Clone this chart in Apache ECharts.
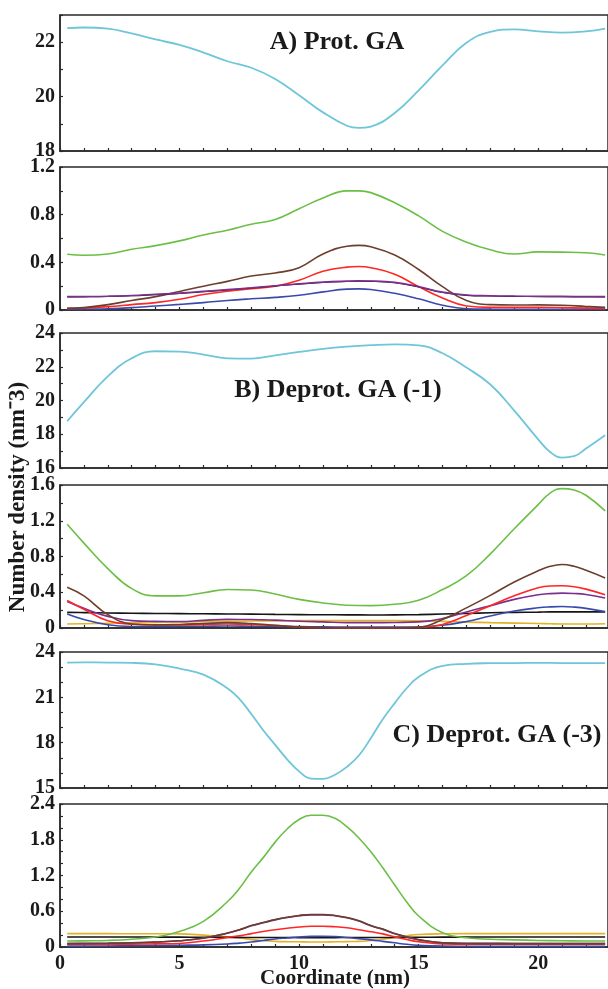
<!DOCTYPE html>
<html><head><meta charset="utf-8">
<script src="https://cdn.jsdelivr.net/npm/echarts@6/dist/echarts.min.js"></script>
<style>html,body{margin:0;padding:0;background:#fff}#c{width:608px;height:989px}</style>
</head><body><div id="c"></div>
<script>
// ---------- Data ----------
// Panel A (Prot. GA)
const xA = [0.3,1,2,3,4,5,6,7,8,9,10,11,12,12.5,13,14,15,16,17,18,19,20,21,22,22.8];
const A_water  = [22.52,22.54,22.5,22.32,22.1,21.9,21.62,21.3,21.06,20.65,20.05,19.42,18.93,18.85,18.9,19.4,20.23,21.15,21.98,22.38,22.47,22.4,22.35,22.4,22.5];
const A_green  = [0.468,0.46,0.47,0.51,0.54,0.58,0.63,0.67,0.72,0.76,0.85,0.94,1.0,1.0,0.985,0.9,0.79,0.66,0.57,0.505,0.47,0.488,0.486,0.48,0.462];
const A_brown  = [0.014,0.02,0.045,0.08,0.112,0.155,0.2,0.24,0.285,0.31,0.355,0.47,0.535,0.542,0.53,0.462,0.34,0.196,0.08,0.045,0.042,0.043,0.04,0.03,0.022];
const A_red    = [0.014,0.017,0.028,0.045,0.062,0.09,0.13,0.157,0.178,0.2,0.25,0.325,0.36,0.365,0.355,0.3,0.196,0.1,0.034,0.022,0.022,0.022,0.02,0.016,0.014];
const A_purple = [0.112,0.113,0.116,0.122,0.132,0.142,0.156,0.171,0.187,0.204,0.22,0.234,0.242,0.244,0.243,0.232,0.196,0.15,0.126,0.12,0.117,0.115,0.114,0.113,0.112];
const A_black  = [0.109,0.11,0.113,0.119,0.129,0.139,0.153,0.168,0.184,0.201,0.217,0.231,0.239,0.241,0.24,0.229,0.193,0.147,0.123,0.117,0.114,0.112,0.111,0.11,0.109];
const A_blue   = [0.006,0.008,0.011,0.02,0.034,0.047,0.062,0.08,0.094,0.106,0.124,0.152,0.175,0.177,0.172,0.14,0.094,0.04,0.011,0.007,0.006,0.006,0.006,0.006,0.006];

// Panel B (Deprot. GA (-1))
const xB = [0.3,1,2,3,4,5,6,7,8,9,10,11,12,13,14,15,16,17,18,19,20,20.5,21,21.5,22,22.8];
const B_water  = [18.77,19.9,21.43,22.5,22.92,22.9,22.72,22.5,22.48,22.68,22.88,23.06,23.19,23.28,23.33,23.27,22.8,21.95,20.95,19.4,17.7,16.95,16.62,16.7,17.15,17.94];
const B_green  = [1.16,0.95,0.665,0.44,0.36,0.36,0.395,0.43,0.425,0.38,0.32,0.28,0.255,0.25,0.265,0.31,0.43,0.585,0.83,1.11,1.38,1.51,1.56,1.545,1.485,1.31];
const B_brown  = [0.457,0.36,0.15,0.045,0.034,0.04,0.05,0.06,0.05,0.03,0.01,0.003,0,0,0,0.008,0.095,0.225,0.365,0.515,0.64,0.69,0.71,0.69,0.645,0.56];
const B_red    = [0.307,0.21,0.08,0.042,0.036,0.035,0.04,0.045,0.04,0.028,0.01,0.002,0,0,0,0.005,0.04,0.14,0.25,0.36,0.45,0.47,0.472,0.462,0.435,0.371];
const B_purple = [0.296,0.22,0.13,0.082,0.074,0.072,0.085,0.096,0.095,0.088,0.076,0.068,0.06,0.06,0.062,0.068,0.105,0.18,0.25,0.32,0.372,0.385,0.39,0.386,0.375,0.335];
const B_blue   = [0.157,0.095,0.036,0.017,0.016,0.018,0.02,0.022,0.02,0.018,0.015,0.013,0.011,0.01,0.01,0.012,0.03,0.073,0.134,0.19,0.226,0.236,0.24,0.234,0.22,0.183];
const B_black  = [0.175,0.172,0.168,0.165,0.163,0.161,0.159,0.157,0.155,0.152,0.15,0.148,0.147,0.146,0.147,0.15,0.156,0.163,0.17,0.175,0.178,0.18,0.18,0.18,0.18,0.18];
const B_yellow = [0.045,0.048,0.053,0.058,0.062,0.066,0.07,0.074,0.078,0.08,0.082,0.082,0.082,0.082,0.082,0.08,0.074,0.066,0.06,0.055,0.05,0.047,0.045,0.045,0.045,0.047];

// Panel C (Deprot. GA (-3))
const xC = [0.3,1,2,3,4,5,6,7,7.5,8,8.5,9,9.5,10,10.5,11,11.5,12,12.5,13,13.5,14,14.5,15,16,17,18,19,20,21,22,22.8];
const C_water  = [23.3,23.31,23.3,23.28,23.18,22.9,22.5,21.6,20.9,19.9,18.82,17.85,16.9,16.1,15.62,15.6,15.88,16.4,17.15,18.3,19.55,20.62,21.6,22.35,23.08,23.22,23.26,23.27,23.28,23.27,23.27,23.27];
const C_green  = [0.1,0.103,0.11,0.13,0.168,0.26,0.43,0.76,0.98,1.26,1.5,1.76,1.98,2.14,2.21,2.21,2.16,2.02,1.83,1.6,1.33,1.04,0.757,0.52,0.24,0.155,0.13,0.12,0.11,0.105,0.1,0.1];
const C_brown  = [0.056,0.058,0.062,0.07,0.084,0.105,0.15,0.235,0.29,0.36,0.41,0.46,0.5,0.53,0.545,0.545,0.53,0.495,0.44,0.36,0.3,0.225,0.17,0.124,0.07,0.06,0.057,0.056,0.056,0.056,0.056,0.056];
const C_purple = [0.06,0.061,0.064,0.071,0.084,0.104,0.148,0.232,0.287,0.356,0.406,0.455,0.495,0.525,0.54,0.54,0.525,0.49,0.435,0.356,0.296,0.222,0.168,0.123,0.072,0.063,0.061,0.06,0.06,0.06,0.06,0.06];
const C_red    = [0.045,0.045,0.046,0.048,0.052,0.06,0.1,0.16,0.19,0.225,0.26,0.29,0.315,0.335,0.347,0.348,0.34,0.322,0.29,0.255,0.22,0.17,0.125,0.09,0.05,0.045,0.045,0.045,0.045,0.045,0.045,0.045];
const C_blue   = [0.015,0.015,0.017,0.02,0.025,0.03,0.035,0.05,0.065,0.084,0.11,0.135,0.152,0.168,0.178,0.18,0.175,0.16,0.14,0.12,0.095,0.07,0.045,0.028,0.015,0.012,0.01,0.01,0.01,0.01,0.01,0.01];
const C_black  = [0.168,0.168,0.167,0.167,0.166,0.165,0.164,0.162,0.161,0.16,0.16,0.159,0.159,0.158,0.158,0.158,0.158,0.159,0.159,0.16,0.16,0.161,0.162,0.163,0.165,0.166,0.167,0.167,0.168,0.168,0.168,0.168];
const C_yellow = [0.225,0.225,0.224,0.223,0.222,0.22,0.2,0.17,0.15,0.124,0.105,0.095,0.09,0.087,0.085,0.085,0.087,0.09,0.095,0.11,0.13,0.16,0.19,0.21,0.222,0.225,0.225,0.225,0.225,0.225,0.225,0.225];

// Tick labels
const xTickLabels = [0,5,10,15,20];
const xTicks = [0,1,2,3,4,5,6,7,8,9,10,11,12,13,14,15,16,17,18,19,20,21,22];
const yLabelsA  = [18,20,22];
const yLabelsA2 = [0,0.4,0.8,1.2];
const yLabelsB  = [16,18,20,22,24];
const yLabelsB2 = [0,0.4,0.8,1.2,1.6];
const yLabelsC  = [15,18,21,24];
const yLabelsC2 = [0,0.6,1.2,1.8,2.4];
const yTicksA  = [18,19,20,21,22,23];
const yTicksA2 = [0,0.2,0.4,0.6,0.8,1.0,1.2];
const yTicksB  = [16,17,18,19,20,21,22,23,24];
const yTicksB2 = [0,0.2,0.4,0.6,0.8,1.0,1.2,1.4,1.6];
const yTicksC  = [15,16,17,18,19,20,21,22,23,24];
const yTicksC2 = [0,0.2,0.4,0.6,0.8,1.0,1.2,1.4,1.6,1.8,2.0,2.2,2.4];

const panelTitles = ['A) Prot. GA','B) Deprot. GA (-1)','C) Deprot. GA (-3)'];
const yName = 'Number density (nm\u207B3)';
const xName = 'Coordinate (nm)';

// ---------- Styles ----------
const COL = {water:'#6ec6d8', green:'#6cbf46', brown:'#6b3f2c', red:'#ff2626', purple:'#7c2f8e', blue:'#3a4aaa', black:'#151515', yellow:'#e3b226'};
const FONT = '"Liberation Serif","Times New Roman",serif';
const AX = '#2a2a2a';

const panels = [
  {top:15,  height:136, min:18, max:23,  labels:yLabelsA,  ticks:yTicksA},
  {top:167, height:143, min:0,  max:1.2, labels:yLabelsA2, ticks:yTicksA2},
  {top:333, height:135, min:16, max:24,  labels:yLabelsB,  ticks:yTicksB},
  {top:485, height:143, min:0,  max:1.6, labels:yLabelsB2, ticks:yTicksB2},
  {top:652, height:136, min:15, max:24,  labels:yLabelsC,  ticks:yTicksC},
  {top:804, height:143, min:0,  max:2.4, labels:yLabelsC2, ticks:yTicksC2}
];

const grids = panels.map(p => ({left:60, width:550, top:p.top, height:p.height, show:true, borderColor:AX, borderWidth:1.5, backgroundColor:'transparent'}));
const xAxes = panels.map((p,i) => ({
  gridIndex:i, type:'value', min:0, max:22.92,
  axisLine:{show:true, onZero:false, lineStyle:{color:AX, width:1.5}},
  axisTick:{show:true, inside:true, length:3, customValues:xTicks, lineStyle:{color:AX, width:1.2}},
  axisLabel:{show:i===5, customValues:xTickLabels, margin:7, color:'#1a1a1a', fontFamily:FONT, fontWeight:'bold', fontSize:20},
  splitLine:{show:false}
}));
const yAxes = panels.map((p,i) => ({
  gridIndex:i, type:'value', min:p.min, max:p.max,
  axisLine:{show:true, lineStyle:{color:AX, width:1.5}},
  axisTick:{show:true, inside:true, length:3, customValues:p.ticks, lineStyle:{color:AX, width:1.2}},
  axisLabel:{customValues:p.labels, margin:5, color:'#1a1a1a', fontFamily:FONT, fontWeight:'bold', fontSize:20},
  splitLine:{show:false}
}));

function mk(xs, ys, color, gi, w){
  return {type:'line', xAxisIndex:gi, yAxisIndex:gi, data: xs.map((x,k)=>[x, ys[k]]),
    showSymbol:false, smooth:0.45, lineStyle:{color:color, width:w||1.6}, itemStyle:{color:color}, silent:true, animation:false};
}

const series = [
  mk(xA, A_water, COL.water, 0, 1.8),
  mk(xA, A_blue, COL.blue, 1), mk(xA, A_red, COL.red, 1), mk(xA, A_brown, COL.brown, 1),
  mk(xA, A_black, COL.black, 1, 1.1), mk(xA, A_purple, COL.purple, 1), mk(xA, A_green, COL.green, 1),
  mk(xB, B_water, COL.water, 2, 1.8),
  mk(xB, B_yellow, COL.yellow, 3), mk(xB, B_black, COL.black, 3), mk(xB, B_blue, COL.blue, 3),
  mk(xB, B_purple, COL.purple, 3), mk(xB, B_red, COL.red, 3), mk(xB, B_brown, COL.brown, 3), mk(xB, B_green, COL.green, 3),
  mk(xC, C_water, COL.water, 4, 1.8),
  mk(xC, C_yellow, COL.yellow, 5), mk(xC, C_black, COL.black, 5), mk(xC, C_blue, COL.blue, 5),
  mk(xC, C_red, COL.red, 5), mk(xC, C_purple, COL.purple, 5), mk(xC, C_brown, COL.brown, 5), mk(xC, C_green, COL.green, 5)
];

const tFont = 'bold 26px ' + FONT;
const graphic = [
  {type:'text', x:337, y:42, style:{text:panelTitles[0], font:tFont, fill:'#1a1a1a', align:'center', verticalAlign:'middle'}},
  {type:'text', x:338, y:390, style:{text:panelTitles[1], font:tFont, fill:'#1a1a1a', align:'center', verticalAlign:'middle'}},
  {type:'text', x:497, y:735, style:{text:panelTitles[2], font:tFont, fill:'#1a1a1a', align:'center', verticalAlign:'middle'}},
  {type:'text', x:18, y:497, rotation:Math.PI/2, style:{text:yName, font:'bold 23px ' + FONT, fill:'#1a1a1a', align:'center', verticalAlign:'middle'}},
  {type:'text', x:335, y:979, style:{text:xName, font:'bold 21px ' + FONT, fill:'#1a1a1a', align:'center', verticalAlign:'middle'}}
];

const chart = echarts.init(document.getElementById('c'), null, {renderer:'canvas'});
chart.setOption({backgroundColor:'#ffffff', animation:false, grid:grids, xAxis:xAxes, yAxis:yAxes, series:series, graphic:graphic});
</script>
</body></html>
